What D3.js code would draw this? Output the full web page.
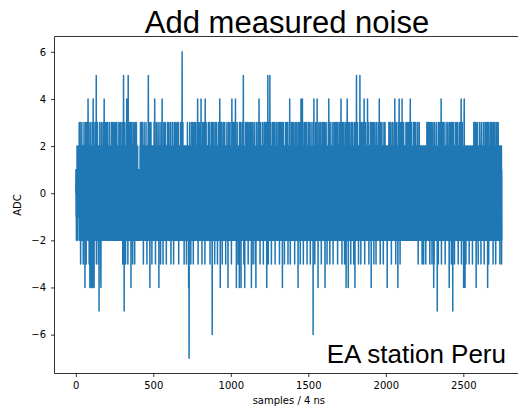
<!DOCTYPE html>
<html>
<head>
<meta charset="utf-8">
<script src="https://cdn.jsdelivr.net/npm/d3@7"></script>
<style>
  body { margin: 0; background: #fff; }
  svg { display: block; }
</style>
</head>
<body>
<div id="chart"></div>
<script>
var title = "Add measured noise";
var station = "EA station Peru";
var xLabel = "samples / 4 ns";
var yLabel = "ADC";
var xTicks = [0, 500, 1000, 1500, 2000, 2500];
var yTicks = [-6, -4, -2, 0, 2, 4, 6];

// measured noise trace, ADC counts, 25 samples per row
var adcCounts = [
  0,1,-1,0,-2, 1,0,-1,2,-1, 0,1,-2,0,1, -1,2,0,-1,1, 2,-1,3,0,-2,
  1,-2,2,3,-1, 0,-3,1,2,-1, 0,2,-2,1,3, -1,0,-2,2,1, -1,0,2,-3,1,
  2,-1,0,3,-2, 1,-1,2,0,-4, 1,2,-2,0,3, -1,1,-3,2,0, -2,1,3,-1,0,
  -1,2,0,-2,4, 1,-1,3,-2,0, 2,-3,1,-1,2, 0,-4,1,3,-2, 0,2,-1,1,-2,
  1,-4,2,0,-1, 3,-2,1,-4,2, 0,-1,4,-2,1, 3,-3,0,-4,2, 1,-1,2,-2,0,
  -1,3,1,-2,0, 2,-1,5,-3,1, 0,2,-2,1,-1, 3,0,-2,2,-1, 1,-3,2,0,1,
  -5,1,2,-1,0, 3,-2,1,-1,2, 0,-3,-4,1,2, -1,3,0,-2,1, 2,-1,0,-2,1,
  2,-1,3,0,-2, 1,2,-1,4,0, -2,1,3,-1,0, 2,-2,1,-1,2, 0,3,-1,1,-2,
  1,-1,2,0,-2, 3,1,-1,0,2, -2,1,-1,2,0, 1,-2,3,0,-1, 2,1,-2,0,1,
  -1,2,0,-2,1, 3,-1,0,2,-1, 1,-2,2,0,3, -1,1,-2,0,2, -1,3,1,-2,0,
  2,-1,1,0,-2, 2,3,-1,0,1, -2,2,-1,1,0, 3,-2,1,-1,2, 0,-1,2,-2,1,
  0,2,-1,3,-2, 1,0,-1,2,1, -2,0,3,-1,2, 0,-2,1,2,-1, 1,0,-2,3,-1,
  2,-1,0,-3,1, 2,-2,1,5,-1, 0,2,-5,1,-1, 3,0,-2,2,-1, 1,-3,2,0,1,
  -2,1,3,-1,4, 0,-2,2,-1,1, 3,-3,0,5,-1, 2,-2,1,0,-1, 2,1,-2,3,0,
  1,-2,2,-1,0, 3,-4,1,2,-1, 0,-2,1,3,-1, 2,0,-3,1,-1, 2,-2,0,1,3,
  -1,0,2,-2,1, -3,2,0,-1,3, 1,-2,2,-1,0, 1,3,-2,-1,2, 0,-1,1,-2,2,
  -1,0,1,-2,0, 1,-1,0,-2,1, 0,-1,1,-2,0, 2,-2,3,1,-1, 2,0,-1,3,1,
  -2,2,0,-1,3, 1,-2,2,-1,0, 2,-3,1,-1,2, 0,3,-2,1,-1, 0,2,-2,1,-1,
  2,0,-1,3,-2, 1,-1,2,0,-3, 1,2,-1,0,2, -2,1,3,5,-1, 0,-2,2,1,-1,
  0,3,-1,-4,1, 2,-2,0,1,-1, 3,-2,1,0,-1, 2,-3,1,2,-1, 0,1,-2,2,0,
  -1,2,1,-2,0, 3,-1,2,-2,4, 1,-1,0,2,-3, 1,-2,2,0,-1, 3,1,-2,0,2,
  -1,1,-2,2,0, -1,3,1,-2,0, 2,-4,1,-1,2, 0,-2,1,3,-1, 0,2,-3,1,-1,
  2,0,-2,1,3, -1,2,4,-2,0, 1,-1,2,-3,1, 0,2,-1,3,-2, 1,0,-1,2,-2,
  0,1,3,-1,-2, 2,0,-1,1,-3, 2,1,-2,0,2, -1,3,1,-2,0, -1,2,0,-2,1,
  3,-1,0,2,-2, 1,-1,2,0,-2, 1,3,-1,0,-3, 2,1,-2,1,-1, 0,2,-1,3,0,
  -2,1,2,-1,0, 2,-3,1,0,-1, 3,-2,2,1,-1, 0,-2,2,-1,1, 3,0,-2,1,2,
  -1,0,2,-2,1, 3,-1,0,2,-2, 1,-1,0,3,-3, 2,1,-1,0,2, -2,1,-1,2,0,
  1,-2,3,0,-1, 2,-1,1,-2,0, 2,6,-1,0,-2, 1,3,-1,2,-2, 0,1,-1,2,-3,
  2,0,-1,1,-2, 2,-1,0,1,-2, 2,0,-1,2,-3, 1,-2,2,0,-1, 3,1,-2,0,2,
  -1,2,0,-4,1, -2,-7,2,0,-1, 3,1,-2,0,2, -1,1,-3,2,0, 1,-1,3,-2,0,
  2,-1,1,0,-2, 3,-1,2,-3,1, 0,2,-1,1,-2, 3,0,-1,2,-2, 1,3,-1,0,1,
  -2,1,2,-1,0, 2,-1,3,-2,1, 0,4,-1,2,-3, 1,-2,0,2,-1, 3,1,-2,0,2,
  -1,0,2,1,-2, 3,0,-1,4,-2, 1,2,-1,0,-3, 2,1,-2,0,3, -1,1,-2,2,0,
  1,-1,3,0,-2, 2,-1,1,-3,0, 4,1,-2,2,-1, 0,3,-1,1,-2, 2,0,-1,2,-2,
  0,2,-1,1,-2, 3,1,-1,0,-2, 2,-1,3,0,-2, 1,-3,2,1,-1, 0,2,-2,1,3,
  -1,1,-2,2,0, -6,1,3,-1,0, 2,-2,1,-1,2, 3,0,-2,1,-1, 2,-3,0,1,2,
  -1,3,0,-2,1, 2,-1,0,-2,3, 1,-1,2,0,-3, 1,2,-1,0,2, -2,1,3,-1,0,
  2,-2,1,0,4, -1,2,-4,1,0, -2,3,1,-1,2, 0,-2,1,3,-1, -3,2,0,1,-1,
  2,0,-2,1,3, -1,2,0,-1,-2, 1,3,-2,0,2, -1,1,-3,2,0, 1,-1,2,-2,1,
  3,-1,0,2,-2, 1,0,-4,2,-1, 1,3,-2,0,1, -1,2,-2,1,0, 3,-1,2,-2,0,
  1,-1,2,0,-3, 2,1,4,-2,0, -1,2,1,-2,3, 0,-1,2,-2,1, 0,3,-1,1,-2,
  2,0,-1,3,-2, 4,1,-1,0,-2, 2,-4,1,0,2, -1,3,-2,1,-1, 0,2,-3,1,2,
  -1,1,-2,0,2, -4,3,1,-1,0, 2,-2,1,-1,3, 0,-4,2,1,-1, 2,0,-2,1,-1,
  3,-1,1,0,-2, 2,5,-1,0,-3, 1,2,-2,0,1, -4,2,1,-1,3, 0,-2,2,-1,1,
  0,2,-1,3,-2, 1,0,-1,2,-2, 1,3,-3,0,2, -1,1,-2,2,0, -1,3,1,-2,0,
  2,-1,0,1,-2, 3,-1,2,-4,0, 1,2,-1,0,-2, 3,1,-1,2,-3, 0,1,-2,2,-1,
  1,3,-1,0,-2, 2,-1,1,-3,0, 2,1,-4,0,3, -1,2,-2,1,0, -1,2,0,-2,1,
  3,0,-1,2,-2, 1,-1,4,0,-2, 2,1,-1,0,-3, 2,3,-1,1,-2, 0,2,-1,1,-2,
  0,2,-1,1,3, -2,0,1,-1,2, -3,1,2,0,-1, 3,-2,1,0,-1, 2,-2,1,3,-1,
  0,2,-2,1,-1, 3,0,-4,2,-1, 1,2,-2,0,5, -1,1,-3,2,0, -1,3,1,-2,0,
  2,-1,5,0,-2, 1,3,-1,0,-2, 2,1,-3,0,2, -1,1,-2,3,0, -1,2,-2,1,0,
  3,-1,1,-2,0, 2,-1,0,3,-2, 1,-3,2,0,-1, 1,2,-2,0,3, -1,1,-2,2,0,
  1,-1,2,0,-2, 3,1,-1,0,2, -2,1,-1,3,-3, 0,2,-1,1,-2, 2,0,3,-1,-2,
  1,2,-1,0,-2, 3,-1,2,-4,1, 0,-2,2,1,-1, 3,0,-2,1,-1, 2,-3,0,2,1,
  -1,2,0,-2,3, 1,-1,0,2,-2, 1,3,-1,0,-2, 2,1,-1,3,-3, 0,1,-2,2,0,
  2,-1,1,0,-2, 4,-1,2,0,-3, 1,2,-2,1,-1, 0,3,-1,2,-2, 1,0,-1,3,-2,
  1,0,2,-1,-2, 3,1,-1,0,2, -2,1,-3,2,0, -1,3,1,-2,0, 2,-1,1,-2,0,
  3,-1,0,2,-2, 1,-1,2,0,-4, 1,3,-2,0,1, -1,2,-2,1,0, 3,-1,2,-3,0,
  1,-1,2,4,-2, 0,1,-1,2,-2, 3,0,4,-1,1, -2,2,0,-3,1, 2,-1,0,3,-2,
  1,0,-1,2,-2, 3,1,-1,0,-2, 2,-1,3,0,-2, 1,2,-3,0,1, -1,2,-2,1,3,
  -1,0,2,-2,1, 2,-1,3,0,-2, 1,-1,2,-3,0, 2,1,-1,3,-2, 0,1,-2,2,-1,
  0,2,-1,1,-2, 3,-6,1,0,2, -1,4,-2,1,0, -1,2,-3,1,2, 0,-1,3,-2,1,
  -1,2,0,-2,1, 3,-1,4,0,-2, 1,-1,2,-4,0, 2,1,-2,3,-1, 0,2,-1,1,-2,
  2,0,-1,3,-2, 1,-1,2,0,-3, 2,1,-2,0,3, -1,1,-2,2,0, -1,3,1,-2,0,
  1,-1,2,0,-2, 3,1,-1,-4,2, 0,-1,2,-2,1, 3,0,-2,1,-1, 2,-3,1,0,2,
  -1,2,0,-2,3, 1,-1,4,0,-2, 2,1,-1,0,-3, 2,3,-1,1,-2, 0,2,-1,1,-2,
  0,2,-1,1,3, -2,0,1,-1,2, -3,1,2,0,-1, 3,-2,1,0,-1, 2,-2,1,3,-1,
  1,0,-2,2,-1, 3,0,-1,1,-2, 2,-1,3,0,-3, 1,2,-2,0,1, -1,2,-2,3,0,
  -1,1,2,-2,0, 3,-1,2,0,-2, 1,4,-1,0,-2, 2,1,-3,0,2, -1,3,1,-2,0,
  2,-1,0,1,-2, 3,-1,2,0,-3, 1,2,-1,0,-2, 1,3,-1,2,-4, 0,1,-2,2,-1,
  1,4,-1,0,-2, 2,-1,1,-4,0, 2,3,-1,1,-2, 0,2,-1,3,-2, 1,0,-1,2,-3,
  1,2,-1,0,3, -2,1,-1,2,0, -2,3,1,-1,0, 2,-2,1,-3,0, 2,-1,1,3,-2,
  0,-4,2,1,-1, 3,0,-2,1,-1, 2,5,-1,0,-2, 1,3,-1,2,-2, 0,1,-1,2,-3,
  1,2,-1,0,-2, 3,1,-1,5,-2, 0,2,-1,1,-3, 2,0,-1,3,-2, 1,-1,2,0,-2,
  2,0,-1,3,-2, 1,-1,2,0,-2, 4,1,-1,0,-3, 2,1,-2,3,0, -1,2,-2,1,0,
  -1,1,2,-2,0, 3,-1,4,0,-2, 1,2,-1,0,-2, 3,-3,1,2,-1, 0,2,-1,1,-2,
  2,-1,0,3,-2, 1,-4,2,0,-1, 1,3,-2,0,2, -1,1,-2,2,0, 3,-1,1,-3,0,
  1,2,-1,0,-2, 3,1,-1,2,-2, 0,1,-3,2,0, -1,3,1,-2,0, 2,-1,1,-2,0,
  2,-1,1,3,-2, 0,2,-1,4,-2, 1,0,-1,2,-3, 1,3,-1,0,-2, 2,1,-1,0,-2,
  3,0,-1,2,-2, 1,-1,2,0,-3, 1,2,-2,3,-1, 0,2,-1,1,-2, 3,0,-1,2,-2,
  1,0,-1,2,-2, 1,-1,0,2,-4, 1,-2,2,0,-1, 2,-1,1,-2,0, 3,1,-1,2,-2,
  0,3,-1,1,-2, 2,0,-1,3,-2, 1,-3,2,0,-1, 1,2,-2,0,3, -1,1,-2,2,0,
  2,-1,1,0,-2, 3,1,-1,4,-2, 0,2,-1,1,-3, 2,0,-1,3,-2, 1,0,-2,2,-1,
  1,2,-1,-4,0, 3,-1,1,-2,2, 0,4,-1,0,-2, 2,1,-3,0,2, -1,3,1,-2,0,
  2,-1,0,1,-2, 4,-1,2,0,-2, 1,2,-1,0,-2, 3,1,-1,2,-2, 0,1,-2,2,-1,
  1,0,2,-1,-2, 3,1,-1,0,2, -2,1,-1,3,-2, 0,2,-1,1,-2, 2,0,3,-1,-2,
  1,2,-1,0,-2, 3,-1,2,4,-2, 0,1,-1,2,-2, 1,3,-1,0,-2, 2,1,-2,0,1,
  -1,2,0,-2,3, 1,-1,0,2,-2, 1,3,-1,0,-2, 2,1,-1,3,-2, 0,1,-2,2,0,
  2,-1,1,0,-2, 3,-1,2,0,-3, 1,2,-2,1,-1, 0,3,-1,2,-2, 1,0,-1,2,-2,
  1,0,2,-1,-2, 2,1,-1,0,-3, 2,-1,1,0,-2, 1,2,-2,0,-3, -1,2,1,-2,0,
  -1,1,2,-2,0, 1,-1,2,-3,0, 2,1,-2,0,-1, 3,-2,1,2,-1, 0,3,-1,1,-2,
  2,-1,0,3,-2, 1,-1,2,0,-3, 1,3,-2,0,2, -1,1,-2,2,0, 3,-1,1,-3,0,
  1,2,-1,0,-2, 3,1,-1,2,-4, 0,1,-3,2,0, -1,3,1,-2,0, 2,-1,1,-2,0,
  2,-1,1,3,-2, 0,2,-5,1,-2, 1,0,-1,2,-3, 1,3,-1,0,-2, 2,1,-1,0,-2,
  3,0,-1,2,-2, 1,-1,4,0,-3, 1,2,-2,3,-1, 0,2,-1,1,-2, 3,0,-1,2,-2,
  1,3,-1,0,-2, 2,-1,1,-3,0, 2,1,-2,0,3, -1,2,-2,1,0, -1,2,0,-2,1,
  3,0,-1,2,-2, 1,-1,2,0,-4, 1,3,-2,0,1, -1,2,-2,1,0, 3,-1,2,-3,0,
  1,-1,2,3,-2, 0,1,-5,2,-2, 3,0,1,-1,1, -2,2,0,-3,1, 2,-1,0,3,-2,
  1,0,-1,2,-2, 3,1,-1,0,-2, 2,-1,3,0,-2, 1,2,-3,0,1, -1,2,-2,1,3,
  -1,0,2,-2,1, 2,-1,3,0,-2, 1,4,2,-3,0, 2,1,-1,3,-2, 0,1,-2,2,-1,
  0,2,-4,1,-2, 3,4,1,0,2, -1,-4,-2,1,0, -1,2,-3,1,2, 0,-1,1,-2,1,
  -1,2,0,-2,1, 2,-1,1,0,-2, 1,-1,2,-3,0, 2,1,-2,1,-1, 0,2,-1,1,-2,
  2,0,-1,1,-2, 1,-1,2,0,-3, 2,1,-2,0,2, -1,1,-2,3,0, -1,3,1,-2,0,
  1,-1,2,0,-2, 3,1,-1,-4,2, 0,-1,2,-2,1, 3,0,-2,1,-1, 2,-3,1,0,2,
  -1,2,0,-2,3, 1,-1,2,0,-2, 2,1,-1,0,-3, 2,3,-1,1,-2, 0,2,-1,1,-2,
  0,2,-1,1,3, -2,0,1,-1,2, -3,1,2,0,-1, 3,-2,1,0,-1, 2,-2,1,3,-1,
  1,0,-2,2,-1, 3,0,-4,1,-2, 2,-1,3,0,-3, 1,2,-2,0,1, -1,2,-2,3,0,
  -1,1,2,-2,0, 3,-1,2,0,-2, 1,3,-1,0,-2, 2,1,-3,0,2, -1,3,1,-2,0,
  2,-1,0,1,-2, 3,-1,2,0,-3, 1,2,-1,0,-2, 1,3,-1,2,-2, 0,1,-2,2,-1,
  3,1,-1,0,-2, 2,-1,1,-2,0, 2,-3,1,-1,2, 0,-2,1,2,-1, 0,2,-3,1,-2
];

var width = 518, height = 406;
var plotLeft = 54.5, plotRight = 523.2, plotTop = 36.5, plotBottom = 373.5;

var n = adcCounts.length;
var xPad = 0.05 * (n - 1);
var yMin = d3.min(adcCounts), yMax = d3.max(adcCounts);
var yPad = 0.05 * (yMax - yMin);

var x = d3.scaleLinear()
  .domain([-xPad, n - 1 + xPad])
  .range([plotLeft, plotRight]);

var y = d3.scaleLinear()
  .domain([yMin - yPad, yMax + yPad])
  .range([plotBottom, plotTop]);

var minus = function (d) { return d < 0 ? "\u2212" + Math.abs(d) : String(d); };

var svg = d3.select("#chart")
  .append("svg")
  .attr("width", width)
  .attr("height", height)
  .style("background", "#fff");

var line = d3.line()
  .x(function (d, i) { return x(i); })
  .y(function (d) { return y(d); });

svg.append("path")
  .datum(adcCounts)
  .attr("fill", "none")
  .attr("stroke", "#1f77b4")
  .attr("stroke-width", 1.5)
  .attr("stroke-linejoin", "round")
  .attr("d", line);

// spines (right one falls outside the picture)
var spines = svg.append("g")
  .attr("stroke", "#000")
  .attr("stroke-width", 0.8)
  .attr("fill", "none");
spines.append("line").attr("x1", plotLeft).attr("x2", plotLeft).attr("y1", plotTop).attr("y2", plotBottom);
spines.append("line").attr("x1", plotLeft).attr("x2", plotRight).attr("y1", plotTop).attr("y2", plotTop);
spines.append("line").attr("x1", plotLeft).attr("x2", plotRight).attr("y1", plotBottom).attr("y2", plotBottom);

var xAxis = svg.append("g")
  .attr("transform", "translate(0," + plotBottom + ")")
  .call(d3.axisBottom(x).tickValues(xTicks).tickSize(3.5).tickPadding(5).tickFormat(minus));

var yAxis = svg.append("g")
  .attr("transform", "translate(" + plotLeft + ",0)")
  .call(d3.axisLeft(y).tickValues(yTicks).tickSize(3.5).tickPadding(5).tickFormat(minus));

[xAxis, yAxis].forEach(function (g) {
  g.select(".domain").remove();
  g.selectAll(".tick line").attr("stroke", "#000").attr("stroke-width", 0.8);
  g.selectAll(".tick text")
    .attr("fill", "#000")
    .style("font-family", "DejaVu Sans")
    .style("font-size", "10px");
});

svg.append("text")
  .attr("x", (plotLeft + plotRight) / 2)
  .attr("y", 404)
  .attr("text-anchor", "middle")
  .style("font-family", "DejaVu Sans")
  .style("font-size", "10px")
  .text(xLabel);

svg.append("text")
  .attr("transform", "translate(21," + ((plotTop + plotBottom) / 2) + ") rotate(-90)")
  .attr("text-anchor", "middle")
  .style("font-family", "DejaVu Sans")
  .style("font-size", "10px")
  .text(yLabel);

svg.append("text")
  .attr("x", 287)
  .attr("y", 33)
  .attr("text-anchor", "middle")
  .style("font-family", "Liberation Sans")
  .style("font-size", "31px")
  .text(title);

svg.append("text")
  .attr("x", 506)
  .attr("y", 363)
  .attr("text-anchor", "end")
  .style("font-family", "Liberation Sans")
  .style("font-size", "26px")
  .text(station);
</script>
</body>
</html>
